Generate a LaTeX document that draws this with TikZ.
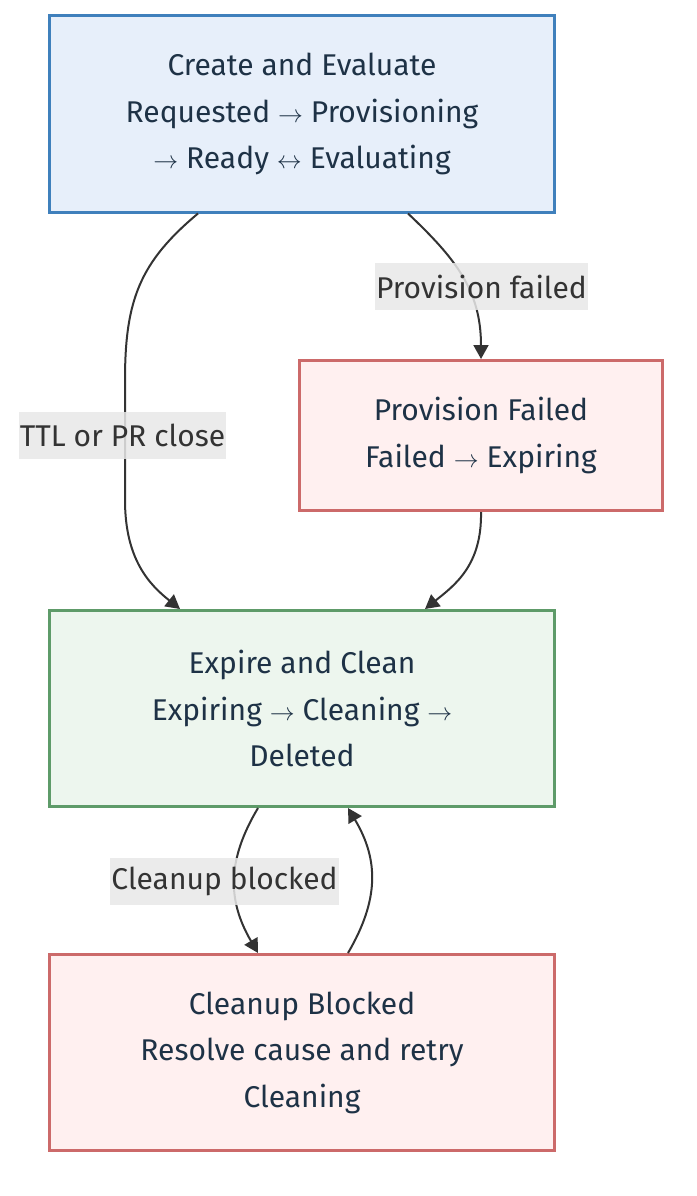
\documentclass[tikz,border=0pt]{standalone}
\usepackage{fontspec}
\setmainfont{Fira Sans}
\usepackage{xcolor}
\usetikzlibrary{arrows.meta,positioning}

\definecolor{nodetext}{HTML}{1E3246}
\definecolor{edgegray}{HTML}{333333}
\definecolor{labelbg}{HTML}{E8E8E8}
\definecolor{blueline}{HTML}{3F80BC}
\definecolor{bluefill}{HTML}{E7EFFA}
\definecolor{redline}{HTML}{CC6A6A}
\definecolor{redfill}{HTML}{FFF0F0}
\definecolor{greenline}{HTML}{5E9B69}
\definecolor{greenfill}{HTML}{EDF6EE}

\begin{document}
\begin{tikzpicture}[x=1pt, y=-1pt, >={Triangle[length=14pt,width=15pt]},
  font=\fontsize{30}{46.5}\selectfont,
  box/.style={draw, line width=3pt, align=center, text=nodetext,
    minimum width=505pt, minimum height=196pt},
  edge/.style={->, draw=edgegray, line width=2pt},
  edgelabel/.style={fill=labelbg, fill opacity=0.85, text opacity=1, text=edgegray,
    inner xsep=1pt, minimum height=47pt}]
  \useasboundingbox (0,0) rectangle (696,1196);
  % ---- states
  \node[box, draw=blueline, fill=bluefill] (create) at (302,114)
    {Create and Evaluate\\Requested $\rightarrow$ Provisioning\\$\rightarrow$ Ready $\leftrightarrow$ Evaluating};
  \node[box, draw=redline, fill=redfill, minimum width=363pt, minimum height=150pt] (provfail) at (481,435.5)
    {Provision Failed\\Failed $\rightarrow$ Expiring};
  \node[box, draw=greenline, fill=greenfill] (expire) at (302,708.5)
    {Expire and Clean\\Expiring $\rightarrow$ Cleaning $\rightarrow$\\Deleted};
  \node[box, draw=redline, fill=redfill] (blocked) at (302,1052.5)
    {Cleanup Blocked\\Resolve cause and retry\\Cleaning};
  % ---- transitions
  \draw[edge] ([xshift=-104pt]create.south) .. controls (140,262) and (125,300) .. (125,380)
    -- (125,500) .. controls (125,560) and (150,585) .. ([xshift=-122pt]expire.north);
  \draw[edge] ([xshift=106pt]create.south) .. controls (455,258) and (481,290) .. (provfail.north);
  \draw[edge] (provfail.south) .. controls (482,565) and (455,585) .. ([xshift=123pt]expire.north);
  \draw[edge] ([xshift=-44pt]expire.south) .. controls (227,860) and (227,900) .. ([xshift=-44pt]blocked.north);
  \draw[edge] ([xshift=46pt]blocked.north) .. controls (379,900) and (379,860) .. ([xshift=46pt]expire.south);
  % ---- transition labels
  \node[edgelabel] (ttl) at (122.5,435.5) {TTL or PR close};
  \node[edgelabel] (pfl) at (481.5,286.5) {Provision failed};
  \node[edgelabel] (cbl) at (224.5,881.5) {Cleanup blocked};
\end{tikzpicture}
\end{document}
